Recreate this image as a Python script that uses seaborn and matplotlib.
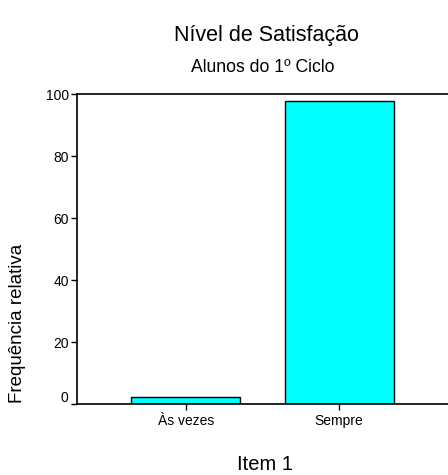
import matplotlib
matplotlib.use("Agg")
import matplotlib.pyplot as plt
import matplotlib.transforms as mtransforms
import seaborn as sns
import pandas as pd

categories = ["Às vezes", "Sempre"]
values = [2.4, 97.6]
yticks = [0, 20, 40, 60, 80, 100]

sns.set_theme(style="white")
plt.rcParams['font.family'] = ['Liberation Sans', 'DejaVu Sans']
plt.rcParams.update({"text.color": "black", "axes.labelcolor": "black",
                     "xtick.color": "black", "ytick.color": "black"})

df = pd.DataFrame({"cat": categories, "val": values})

fig = plt.figure(figsize=(4.48, 4.75), dpi=100)
ax = fig.add_axes([77/448, 1-404/475, (448-77)/448, (404-94)/475])
sns.barplot(data=df, x="cat", y="val", ax=ax, color="#00FFFF", saturation=1,
            edgecolor="black", linewidth=1.0, width=0.71)
ax.set_xlim(-0.71, 1.71)
ax.set_ylim(0, 100)
ax.set_yticks(yticks)
ax.set_yticklabels([str(t) for t in yticks], fontsize=10)
ax.tick_params(axis="x", labelsize=10, length=4, width=1, direction="out", bottom=True, pad=3)
ax.tick_params(axis="y", length=4, width=1, direction="out", left=True, pad=2)
for s in ["top", "left", "bottom"]:
    ax.spines[s].set_visible(True)
    ax.spines[s].set_color("black")
    ax.spines[s].set_linewidth(1.2)
ax.spines["right"].set_visible(False)
ax.set_xlabel("")
ax.set_ylabel("")

# the "0" label sits slightly above the baseline
lbl0 = ax.get_yticklabels()[0]
lbl0.set_transform(lbl0.get_transform() + mtransforms.ScaledTranslation(0, 8/100, fig.dpi_scale_trans))

fig.text(265/448, 1-464/475, "Item 1", ha="center", va="center", fontsize=14.5)
fig.text(18/448, 1-323/475, "Frequência relativa", ha="center", va="center",
         rotation=90, fontsize=13.5)
fig.text(266/448, 1-35/475, "Nível de Satisfação", ha="center", va="center", fontsize=15.5)
fig.text(262.5/448, 1-67/475, "Alunos do 1º Ciclo", ha="center", va="center", fontsize=12.7)

fig.savefig("out.png", dpi=100)
